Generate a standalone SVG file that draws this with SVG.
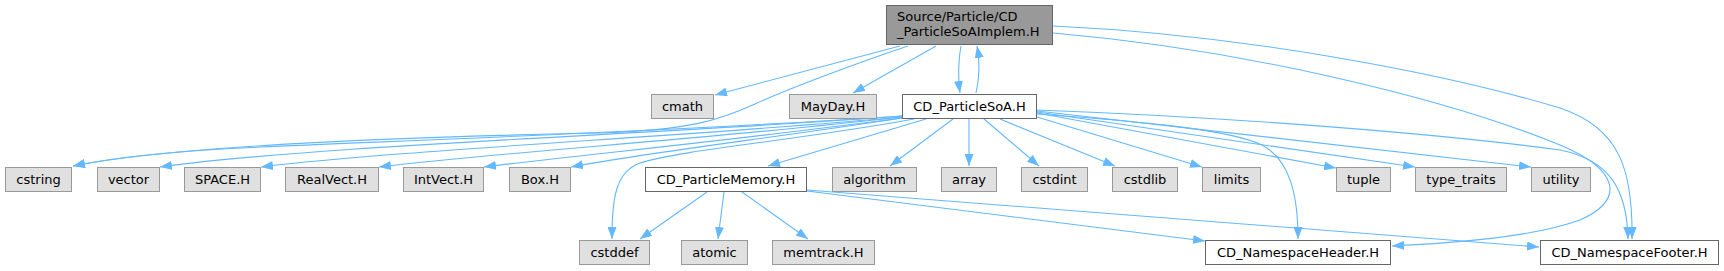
<svg xmlns="http://www.w3.org/2000/svg" width="1724" height="271" viewBox="0 0 1724 271">
<style>
  .g rect { fill: #e0e0e0; stroke: #999999; stroke-width: 1; }
  .w rect { fill: #ffffff; stroke: #666666; stroke-width: 1; }
  .r rect { fill: #999999; stroke: #666666; stroke-width: 1; }
  text { font-family: "DejaVu Sans", "Liberation Sans", sans-serif; font-size: 13px; fill: #000000; text-anchor: middle; }
  .r text { text-anchor: start; }
  #edges path { fill: none; stroke: #63b8ff; stroke-width: 1.1; marker-end: url(#ah); }
</style>
<defs>
  <marker id="ah" markerWidth="12" markerHeight="9" refX="12" refY="4.5" orient="auto" markerUnits="userSpaceOnUse">
    <path d="M0,0 L12,4.5 L0,9 z" fill="#63b8ff"/>
  </marker>
</defs>
<rect width="1724" height="271" fill="#ffffff"/>
<g id="edges">
  <path d="M900,46 L715,95"/>
  <path d="M936,46 L853,93"/>
  <path d="M961,46 C958,62 958,78 960,93"/>
  <path d="M976,93 C979,80 980,62 977,46"/>
  <path d="M908,46 C860,62 790,88 755,104 C720,120 690,130 600,133 C400,137 180,145 73,166"/>
  <path d="M1053,33 C1250,50 1450,100 1560,145 C1620,170 1625,200 1580,220 C1530,238 1450,243 1392,246"/>
  <path d="M1053,26 C1250,35 1450,75 1560,108 C1620,128 1633,170 1632,239"/>
  <path d="M1037,110 C1250,118 1450,135 1560,150 C1610,160 1627,190 1628,239"/>
  <path d="M1037,114 C1150,122 1230,130 1262,145 C1290,160 1298,195 1298,239"/>
  <path d="M984,119 L1039,166"/>
  <path d="M1000,119 L1115,166"/>
  <path d="M1037,117 L1202,167"/>
  <path d="M1037,113 L1336,168"/>
  <path d="M1037,112 L1415,167"/>
  <path d="M1037,111 L1531,167"/>
  <path d="M969,119 L969,166"/>
  <path d="M953,119 L890,166"/>
  <path d="M926,119 L768,166"/>
  <path d="M914,119 C800,140 680,150 640,163 C615,172 612,200 612,239"/>
  <path d="M902,116 C700,130 420,140 260,147 C170,151 115,157 73,166"/>
  <path d="M902,116 C650,135 320,145 160,167"/>
  <path d="M902,117 C680,137 400,150 261,167"/>
  <path d="M902,117 C700,140 500,152 379,167"/>
  <path d="M902,118 C720,142 580,155 484,167"/>
  <path d="M902,118 C780,137 650,152 571,167"/>
  <path d="M707,192 L640,239"/>
  <path d="M724,192 L718,239"/>
  <path d="M742,192 L808,239"/>
  <path d="M807,191 L1205,241"/>
  <path d="M807,190 L1539,247"/>
</g>
<g id="n_root" class="r"><rect x="886.5" y="5.5" width="166" height="39"/><text x="897" y="21">Source/Particle/CD</text><text x="897" y="36">_ParticleSoAImplem.H</text></g>
<g id="n_soa" class="w"><rect x="902.5" y="94.5" width="134" height="24"/><text x="969.5" y="111">CD_ParticleSoA.H</text></g>
<g id="n_cmath" class="g"><rect x="651.5" y="94.5" width="62" height="24"/><text x="682.5" y="111">cmath</text></g>
<g id="n_mayday" class="g"><rect x="789.5" y="94.5" width="87" height="24"/><text x="833" y="111">MayDay.H</text></g>
<g id="n_cstring" class="g"><rect x="5.5" y="167.5" width="66" height="24"/><text x="38.5" y="184">cstring</text></g>
<g id="n_vector" class="g"><rect x="97.5" y="167.5" width="62" height="24"/><text x="128.5" y="184">vector</text></g>
<g id="n_space" class="g"><rect x="184.5" y="167.5" width="76" height="24"/><text x="222.5" y="184">SPACE.H</text></g>
<g id="n_realvect" class="g"><rect x="285.5" y="167.5" width="93" height="24"/><text x="332" y="184">RealVect.H</text></g>
<g id="n_intvect" class="g"><rect x="403.5" y="167.5" width="80" height="24"/><text x="443.5" y="184">IntVect.H</text></g>
<g id="n_box" class="g"><rect x="509.5" y="167.5" width="61" height="24"/><text x="540" y="184">Box.H</text></g>
<g id="n_memory" class="w"><rect x="645.5" y="167.5" width="161" height="24"/><text x="726" y="184">CD_ParticleMemory.H</text></g>
<g id="n_algorithm" class="g"><rect x="832.5" y="167.5" width="84" height="24"/><text x="874.5" y="184">algorithm</text></g>
<g id="n_array" class="g"><rect x="941.5" y="167.5" width="55" height="24"/><text x="969" y="184">array</text></g>
<g id="n_cstdint" class="g"><rect x="1021.5" y="167.5" width="66" height="24"/><text x="1054.5" y="184">cstdint</text></g>
<g id="n_cstdlib" class="g"><rect x="1112.5" y="167.5" width="65" height="24"/><text x="1145" y="184">cstdlib</text></g>
<g id="n_limits" class="g"><rect x="1202.5" y="167.5" width="58" height="24"/><text x="1231.5" y="184">limits</text></g>
<g id="n_tuple" class="g"><rect x="1336.5" y="167.5" width="54" height="24"/><text x="1363.5" y="184">tuple</text></g>
<g id="n_typetraits" class="g"><rect x="1415.5" y="167.5" width="91" height="24"/><text x="1461" y="184">type_traits</text></g>
<g id="n_utility" class="g"><rect x="1531.5" y="167.5" width="59" height="24"/><text x="1561" y="184">utility</text></g>
<g id="n_cstddef" class="g"><rect x="579.5" y="240.5" width="70" height="24"/><text x="614.5" y="257">cstddef</text></g>
<g id="n_atomic" class="g"><rect x="681.5" y="240.5" width="66" height="24"/><text x="714.5" y="257">atomic</text></g>
<g id="n_memtrack" class="g"><rect x="772.5" y="240.5" width="102" height="24"/><text x="823.5" y="257">memtrack.H</text></g>
<g id="n_header" class="w"><rect x="1205.5" y="240.5" width="185" height="24"/><text x="1298" y="257">CD_NamespaceHeader.H</text></g>
<g id="n_footer" class="w"><rect x="1540.5" y="240.5" width="178" height="24"/><text x="1629.5" y="257">CD_NamespaceFooter.H</text></g>
</svg>
